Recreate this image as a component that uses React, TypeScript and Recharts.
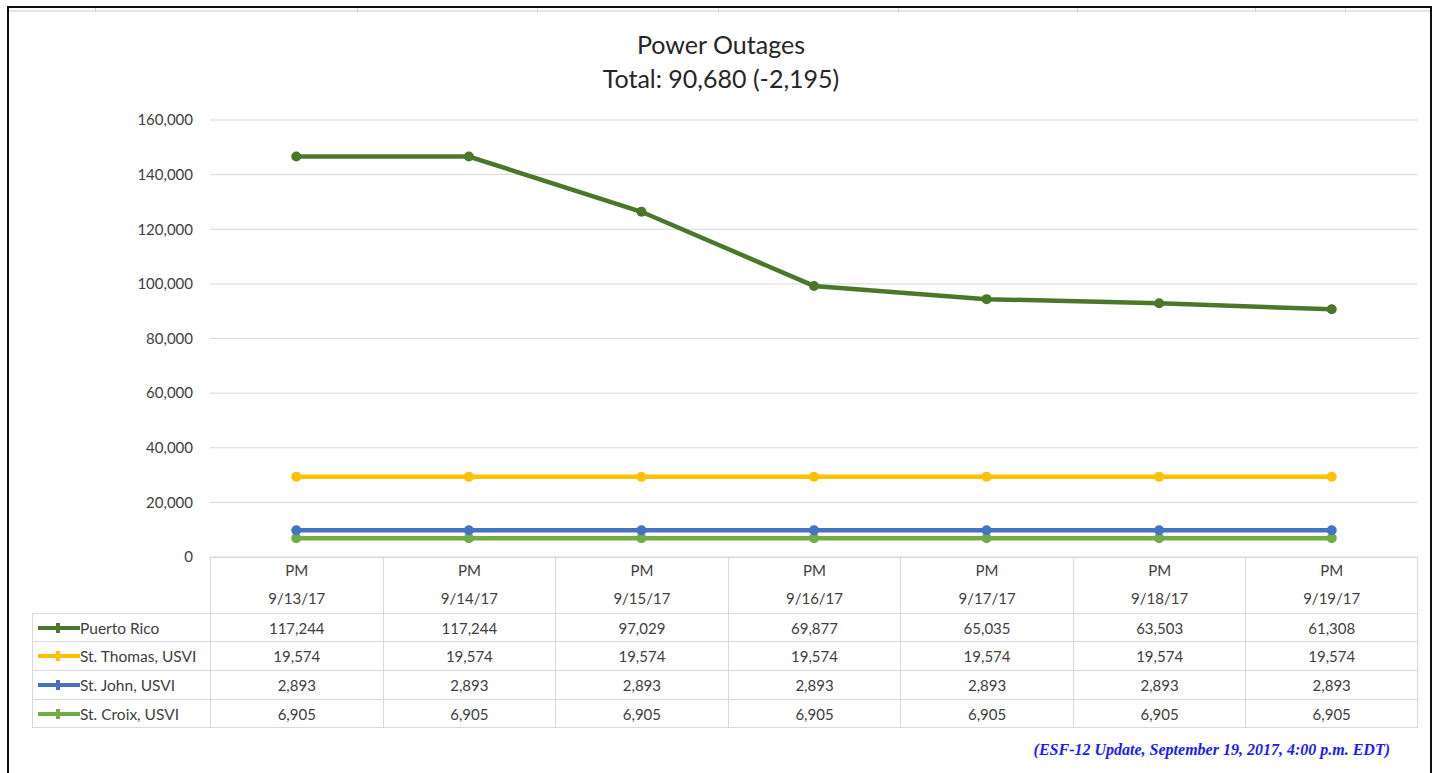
import React from 'react';
import { ComposedChart, Area, XAxis, YAxis, CartesianGrid } from 'recharts';

const categories = ['9/13/17', '9/14/17', '9/15/17', '9/16/17', '9/17/17', '9/18/17', '9/19/17'];
const periodLabels = ['PM', 'PM', 'PM', 'PM', 'PM', 'PM', 'PM'];
const puertoRico = [117244, 117244, 97029, 69877, 65035, 63503, 61308];
const stThomas = [19574, 19574, 19574, 19574, 19574, 19574, 19574];
const stJohn = [2893, 2893, 2893, 2893, 2893, 2893, 2893];
const stCroix = [6905, 6905, 6905, 6905, 6905, 6905, 6905];
const yTicks = [0, 20000, 40000, 60000, 80000, 100000, 120000, 140000, 160000];

const seriesNames = ['Puerto Rico', 'St. Thomas, USVI', 'St. John, USVI', 'St. Croix, USVI'];
const seriesKeys = ['pr', 'st', 'sj', 'sc'];
const seriesColors = ['#4b772a', '#ffc000', '#4472c4', '#70ad47'];
const seriesValues = [puertoRico, stThomas, stJohn, stCroix];

const data = categories.map((c, i) => ({
  date: c,
  pr: puertoRico[i],
  st: stThomas[i],
  sj: stJohn[i],
  sc: stCroix[i],
}));

const FONT = 'Lato, "Open Sans", sans-serif';
const fmt = (v: number) => v.toLocaleString('en-US');

const PLOT_LEFT = 210;
const PLOT_RIGHT = 1418;
const PLOT_TOP = 120;
const PLOT_BOTTOM = 557;
const COLW = (PLOT_RIGHT - PLOT_LEFT) / categories.length;
const GRID = '#d9d9d9';
const TXT = '#404040';

const topCellMarks = [95, 357, 537, 718, 898, 1077, 1255, 1345];

const makeDot = (color: string) => (props: any) => {
  const { cx, cy, index } = props;
  if (cx == null || cy == null) return <g key={`d-${color}-${index}`} />;
  return <circle key={`d-${color}-${index}`} cx={cx} cy={cy} r={5} fill={color} stroke="none" />;
};

export default function App() {
  const stackOrder = [3, 2, 1, 0];
  const rowTops = [613, 641, 670, 699, 728];
  return (
    <div style={{ position: 'absolute', left: 0, top: 0, width: 1434, height: 773, background: '#fff', fontFamily: FONT, overflow: 'hidden' }}>
      {/* spreadsheet grid remnant at top */}
      <div style={{ position: 'absolute', left: 9, top: 10, width: 1422, height: 2, background: '#e6e6e6' }} />
      {topCellMarks.map((x) => (
        <div key={x} style={{ position: 'absolute', left: x, top: 8, width: 1, height: 4, background: '#d0d0d0' }} />
      ))}
      {/* outer frame */}
      <div style={{ position: 'absolute', left: 7, top: 6, width: 1425, height: 780, border: '2px solid #111', boxSizing: 'border-box' }} />

      <div style={{ position: 'absolute', left: 0, top: 0 }}>
        <ComposedChart width={1434} height={773} data={data} margin={{ top: PLOT_TOP, right: 1434 - PLOT_RIGHT, bottom: 773 - PLOT_BOTTOM, left: 0 }}>
          <CartesianGrid vertical={false} stroke={GRID} strokeWidth={1} />
          <XAxis dataKey="date" hide scale="point" padding={{ left: COLW / 2, right: COLW / 2 }} />
          <YAxis
            width={PLOT_LEFT}
            domain={[0, 160000]}
            ticks={yTicks}
            tickFormatter={fmt}
            axisLine={false}
            tickLine={false}
            tickSize={0}
            tickMargin={17}
            tick={{ fill: TXT, fontSize: 15, fontFamily: FONT }}
          />
          {stackOrder.map((i) => (
            <Area
              key={seriesKeys[i]}
              type="linear"
              dataKey={seriesKeys[i]}
              name={seriesNames[i]}
              stackId="1"
              stroke={seriesColors[i]}
              strokeWidth={4.5}
              fill="none"
              fillOpacity={0}
              dot={makeDot(seriesColors[i])}
              activeDot={false}
              isAnimationActive={false}
            />
          ))}
        </ComposedChart>
      </div>

      {/* Title */}
      <div style={{ position: 'absolute', left: 421, width: 600, top: 27, textAlign: 'center', fontSize: 25, lineHeight: '34px', color: '#262626' }}>
        Power Outages<br />Total: 90,680 (-2,195)
      </div>

      {/* Data table header */}
      <div style={{ position: 'absolute', left: PLOT_LEFT, top: PLOT_BOTTOM, width: PLOT_RIGHT - PLOT_LEFT, height: rowTops[0] - PLOT_BOTTOM, borderTop: `1px solid ${GRID}` }} />
      {categories.map((c, j) => (
        <div key={c} style={{ position: 'absolute', left: PLOT_LEFT + j * COLW, top: PLOT_BOTTOM, width: COLW, height: rowTops[0] - PLOT_BOTTOM, borderLeft: `1px solid ${GRID}`, borderRight: j === categories.length - 1 ? `1px solid ${GRID}` : undefined, boxSizing: 'border-box', textAlign: 'center', fontSize: 15, color: TXT }}>
          <div style={{ position: 'absolute', left: 0, right: 0, top: 4, lineHeight: '18px' }}>{periodLabels[j]}</div>
          <div style={{ position: 'absolute', left: 0, right: 0, top: 32, lineHeight: '18px' }}>{c}</div>
        </div>
      ))}

      {/* Data table rows */}
      {seriesNames.map((name, r) => (
        <React.Fragment key={name}>
          <div style={{ position: 'absolute', left: 32, top: rowTops[r], width: PLOT_LEFT - 32, height: rowTops[r + 1] - rowTops[r], borderTop: `1px solid ${GRID}`, borderLeft: `1px solid ${GRID}`, borderBottom: r === 3 ? `1px solid ${GRID}` : undefined, boxSizing: 'border-box' }}>
            <svg width={44} height={12} style={{ position: 'absolute', left: 4, top: 8 }}>
              <line x1={1} y1={6} x2={43} y2={6} stroke={seriesColors[r]} strokeWidth={4} />
              <rect x={19} y={1} width={4} height={10} fill={seriesColors[r]} />
            </svg>
            <div style={{ position: 'absolute', left: 47, top: 0, lineHeight: `${rowTops[r + 1] - rowTops[r]}px`, fontSize: 15.5, color: TXT, whiteSpace: 'nowrap' }}>{name}</div>
          </div>
          {seriesValues[r].map((v, j) => (
            <div key={j} style={{ position: 'absolute', left: PLOT_LEFT + j * COLW, top: rowTops[r], width: COLW, height: rowTops[r + 1] - rowTops[r], borderTop: `1px solid ${GRID}`, borderLeft: `1px solid ${GRID}`, borderRight: j === categories.length - 1 ? `1px solid ${GRID}` : undefined, borderBottom: r === 3 ? `1px solid ${GRID}` : undefined, boxSizing: 'border-box', textAlign: 'center', fontSize: 15, color: TXT, lineHeight: `${rowTops[r + 1] - rowTops[r]}px` }}>
              {fmt(v)}
            </div>
          ))}
        </React.Fragment>
      ))}

      {/* Footnote */}
      <div style={{ position: 'absolute', right: 1434 - 1390, top: 741, fontFamily: '"Liberation Serif", "Times New Roman", serif', fontStyle: 'italic', fontWeight: 'bold', fontSize: 16, color: '#1a1aff', whiteSpace: 'nowrap' }}>
        (ESF-12 Update, September 19, 2017, 4:00 p.m. EDT)
      </div>
    </div>
  );
}
